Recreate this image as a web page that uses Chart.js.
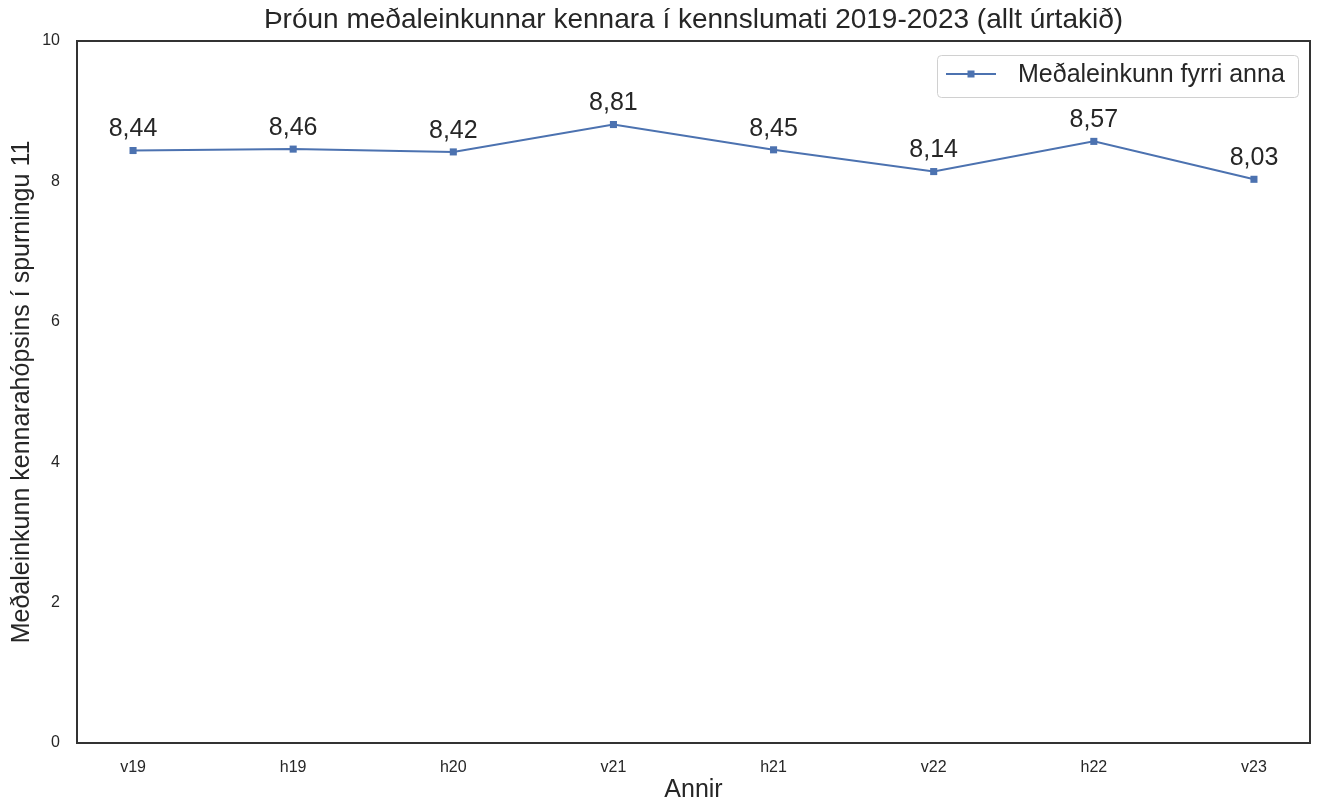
<!DOCTYPE html>
<html>
<head>
<meta charset="utf-8">
<script src="https://cdn.jsdelivr.net/npm/chart.js@4"></script>
<style>
  html, body { margin: 0; padding: 0; background: #fff; }
  #wrap { width: 1317px; height: 800px; }
</style>
</head>
<body>
<div id="wrap"><canvas id="graf" width="1317" height="800"></canvas></div>
<script>
// --- Gögn ---
const annir = ['v19', 'h19', 'h20', 'v21', 'h21', 'v22', 'h22', 'v23'];
const medaleinkunn = [8.44, 8.46, 8.42, 8.81, 8.45, 8.14, 8.57, 8.03];
const yTicks = [0, 2, 4, 6, 8, 10];

const FONT = "'Liberation Sans', Arial, sans-serif";
const LITUR = '#4c72b0';
const TEXTI = '#262626';
const TITILL = 'Þróun meðaleinkunnar kennara í kennslumati 2019-2023 (allt úrtakið)';

// Gildi ofan við punktana
const gildiPlugin = {
  id: 'gildi',
  afterDatasetsDraw(chart) {
    const { ctx } = chart;
    const meta = chart.getDatasetMeta(0);
    ctx.save();
    ctx.font = '25px ' + FONT;
    ctx.fillStyle = TEXTI;
    ctx.textAlign = 'center';
    ctx.textBaseline = 'middle';
    meta.data.forEach((p, i) => {
      ctx.fillText(medaleinkunn[i].toFixed(2).replace('.', ','), p.x, p.y - 21);
    });
    ctx.restore();
  }
};

// Titill, rammi utan um teiknisvæðið + skýring
const rammiPlugin = {
  id: 'rammi',
  afterDraw(chart) {
    const { ctx, chartArea: a } = chart;
    ctx.save();
    ctx.fillStyle = TEXTI;
    ctx.font = '28px ' + FONT;
    ctx.textAlign = 'center';
    ctx.textBaseline = 'middle';
    ctx.fillText(TITILL, (a.left + a.right) / 2, 20);

    ctx.strokeStyle = '#333';
    ctx.lineWidth = 2;
    ctx.strokeRect(a.left, a.top, a.right - a.left, a.bottom - a.top);

    // skýring
    const bx = 937, by = 55, bw = 361, bh = 42;
    ctx.beginPath();
    ctx.roundRect(bx + 0.5, by + 0.5, bw, bh, 4);
    ctx.fillStyle = 'rgba(255,255,255,0.8)';
    ctx.fill();
    ctx.strokeStyle = '#d0d0d0';
    ctx.lineWidth = 1;
    ctx.stroke();

    ctx.strokeStyle = LITUR;
    ctx.lineWidth = 2;
    ctx.beginPath();
    ctx.moveTo(946, 74);
    ctx.lineTo(996, 74);
    ctx.stroke();
    ctx.fillStyle = LITUR;
    ctx.fillRect(967.5, 70.5, 7, 7);

    ctx.fillStyle = TEXTI;
    ctx.font = '25px ' + FONT;
    ctx.textAlign = 'left';
    ctx.textBaseline = 'middle';
    ctx.fillText('Meðaleinkunn fyrri anna', 1018, 75);
    ctx.restore();
  }
};

const ctx = document.getElementById('graf').getContext('2d');
new Chart(ctx, {
  type: 'line',
  data: {
    datasets: [{
      label: 'Meðaleinkunn fyrri anna',
      data: medaleinkunn.map((v, i) => ({ x: i, y: v })),
      borderColor: LITUR,
      backgroundColor: LITUR,
      borderWidth: 2,
      pointStyle: 'rect',
      pointRadius: 5,
      pointBorderWidth: 0,
      tension: 0
    }]
  },
  options: {
    responsive: false,
    animation: false,
    layout: { padding: { top: 41, right: 7, left: 0, bottom: 0 } },
    plugins: {
      legend: { display: false },
      tooltip: { enabled: false },
      title: { display: false }
    },
    scales: {
      x: {
        type: 'linear',
        min: -0.35,
        max: 7.35,
        grid: { display: false, drawTicks: false },
        border: { display: false },
        afterBuildTicks: (s) => { s.ticks = annir.map((_, i) => ({ value: i })); },
        afterFit: (s) => { s.height = 57; },
        ticks: {
          color: TEXTI,
          padding: 15,
          maxRotation: 0,
          font: { family: FONT, size: 16 },
          callback: (v) => annir[v]
        },
        title: {
          display: true,
          text: 'Annir',
          color: TEXTI,
          font: { family: FONT, size: 25, lineHeight: 1 },
          padding: { top: 0, bottom: -3 }
        }
      },
      y: {
        min: 0,
        max: 10,
        grid: { display: false, drawTicks: false },
        border: { display: false },
        afterBuildTicks: (s) => { s.ticks = yTicks.map(v => ({ value: v })); },
        afterFit: (s) => { s.width = 77; },
        ticks: {
          color: TEXTI,
          padding: 17,
          font: { family: FONT, size: 16 }
        },
        title: {
          display: true,
          text: 'Meðaleinkunn kennarahópsins í spurningu 11',
          color: TEXTI,
          font: { family: FONT, size: 25, lineHeight: 1.2 },
          padding: { top: 7, bottom: 0 }
        }
      }
    }
  },
  plugins: [gildiPlugin, rammiPlugin]
});
</script>
</body>
</html>
